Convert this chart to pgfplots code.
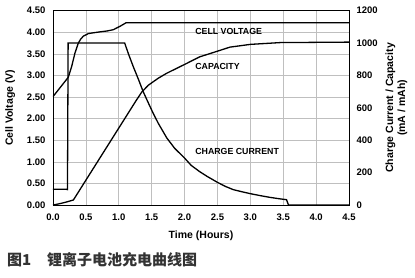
\documentclass[border=0pt]{standalone}
\usepackage{fontspec}
\setmainfont{Liberation Sans}
\newfontfamily\cjk{Noto Sans CJK SC}
\usepackage{pgfplots}
\pgfplotsset{compat=1.18}
\begin{document}
\begin{tikzpicture}
\useasboundingbox (-53pt,-72pt) rectangle (362pt,205pt);
\begin{axis}[
  at={(0,0)}, anchor=south west, scale only axis,
  width=296pt, height=194.3pt,
  xmin=0, xmax=4.5, ymin=0, ymax=4.5,
  xtick={0,0.5,1,1.5,2,2.5,3,3.5,4,4.5},
  ytick={0,0.5,1,1.5,2,2.5,3,3.5,4,4.5},
  xticklabel style={/pgf/number format/fixed, /pgf/number format/fixed zerofill, /pgf/number format/precision=1, yshift=-5pt},
  yticklabel style={/pgf/number format/fixed, /pgf/number format/fixed zerofill, /pgf/number format/precision=2, xshift=-4pt},
  /pgf/number format/assume math mode=true,
  tick label style={font=\bfseries\fontsize{9.5}{11}\selectfont},
  major tick length=0pt,
  grid=major, grid style={gray!50, line width=0.6pt},
  axis line style={black, line width=0.8pt},
  ytick pos=left, xtick pos=bottom,
  xlabel={Time (Hours)}, ylabel={Cell Voltage (V)},
  label style={font=\bfseries\fontsize{10.5}{12}\selectfont},
  xlabel style={at={(axis description cs:0.5,-0.16)}, anchor=center},
  ylabel style={at={(axis description cs:-0.145,0.5)}, anchor=center},
]
\addplot[black, line width=1.3pt] coordinates {
  (0,2.51) (0.233,2.96) (0.284,3.21) (0.334,3.52) (0.385,3.75) (0.42,3.84)
  (0.461,3.91) (0.537,3.97) (0.62,3.99) (0.714,4.01) (0.82,4.03) (0.917,4.06)
  (1.02,4.14) (1.11,4.22) (4.5,4.22)
};
\end{axis}
\begin{axis}[
  at={(0,0)}, anchor=south west, scale only axis,
  width=296pt, height=194.3pt,
  xmin=0, xmax=4.5, ymin=0, ymax=1200,
  axis y line*=right, axis x line=none,
  ytick={0,200,400,600,800,1000,1200},
  /pgf/number format/1000 sep={},
  /pgf/number format/assume math mode=true,
  tick label style={font=\bfseries\fontsize{9.5}{11}\selectfont},
  yticklabel style={anchor=west, xshift=4pt},
  major tick length=0pt,
  axis line style={black, line width=0.8pt},
  ylabel={Charge Current / Capacity\\(mA / mAh)},
  label style={font=\bfseries\fontsize{10.5}{12}\selectfont},
  ylabel style={align=center, at={(axis description cs:1.160,0.5)}, anchor=center},
]
% charge current
\addplot[black, line width=1.3pt] coordinates {
  (0,97) (0.2,97) (0.22,95) (0.23,1000) (1.09,1000) (1.15,930) (1.22,855)
  (1.3,775) (1.37,701) (1.45,630) (1.52,569) (1.6,505) (1.73,414) (1.85,350)
  (2.0,290) (2.1,245) (2.23,206) (2.35,175) (2.5,140) (2.62,115) (2.74,95)
  (2.87,82) (3.0,70) (3.15,58) (3.3,47) (3.45,38) (3.55,33) (3.58,0) (4.5,0)
};
% capacity
\addplot[black, line width=1.3pt] coordinates {
  (0,0) (0.1,8) (0.2,18) (0.31,31) (1.27,649) (1.35,698) (1.45,740) (1.6,783)
  (1.73,814) (2.0,868) (2.23,915) (2.5,950) (2.69,975) (3.0,992) (3.45,1003)
  (4.5,1006)
};
\node[anchor=west, font=\bfseries\fontsize{8.8}{10}\selectfont] at (axis cs:2.11,1070) {CELL VOLTAGE};
\node[anchor=west, font=\bfseries\fontsize{8.8}{10}\selectfont] at (axis cs:2.11,854) {CAPACITY};
\node[anchor=west, font=\bfseries\fontsize{8.8}{10}\selectfont] at (axis cs:2.11,329) {CHARGE CURRENT};
\end{axis}
\node[anchor=west, inner sep=0pt, text=black!80, font=\cjk\bfseries\fontsize{15}{17}\selectfont] at (-46pt,-55pt) {图1\hspace{1.05em}锂离子电池充电曲线图};
\end{tikzpicture}
\end{document}
